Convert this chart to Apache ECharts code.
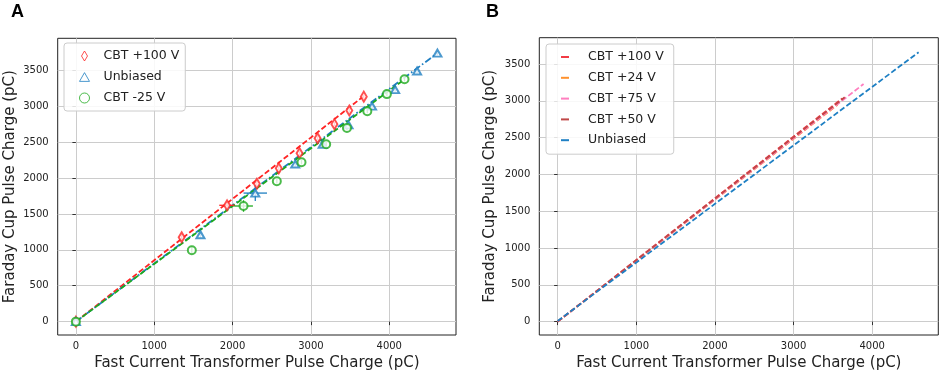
<!DOCTYPE html>
<html><head><meta charset="utf-8">
<script src="https://cdn.jsdelivr.net/npm/echarts@6/dist/echarts.min.js"></script>
<style>html,body{margin:0;padding:0;background:#fff}#c{width:941px;height:375px}</style>
</head><body><div id="c"></div>
<script>
// ---------- data ----------
const xTickLabels = [0, 1000, 2000, 3000, 4000];
const yTickLabels = [0, 500, 1000, 1500, 2000, 2500, 3000, 3500];

// Panel A measured points
const redX  = [0, 1350, 1930, 2310, 2590, 2855, 3085, 3300, 3490, 3675];
const redY  = [0, 1175, 1620, 1920, 2135, 2345, 2553, 2750, 2940, 3132];
const redXErr = [0, 0, 100, 0, 0, 0, 0, 0, 0, 0];
const redYErr = [0, 45, 45, 30, 30, 30, 30, 30, 30, 30];

const blueX = [0, 1590, 2290, 2800, 3150, 3480, 3780, 4075, 4355, 4615];
const blueY = [0, 1210, 1790, 2195, 2470, 2740, 3000, 3230, 3490, 3738];
const blueXErr = [0, 0, 150, 0, 0, 0, 0, 0, 0, 0];
const blueYErr = [0, 40, 110, 30, 30, 30, 30, 30, 30, 30];

const greenX = [0, 1480, 2140, 2565, 2880, 3195, 3460, 3720, 3970, 4195];
const greenY = [0, 995, 1610, 1955, 2220, 2470, 2695, 2930, 3168, 3374];
const greenXErr = [0, 0, 120, 0, 0, 0, 0, 0, 0, 0];
const greenYErr = [0, 50, 80, 30, 30, 30, 30, 30, 30, 30];

// Panel A fit lines
const fitRedA   = [[0, 0], [3680, 3145]];
const fitBlueA  = [[0, 0], [4615, 3738]];
const fitGreenA = [[0, 0], [4195, 3374]];

// Panel B fit lines
const fitB100 = [[0, 0], [3620, 3034]];
const fitB24  = [[0, 0], [3560, 2948]];
const fitB75  = [[0, 0], [3890, 3229]];
const fitB50  = [[0, 0], [3650, 3048]];
const fitBUnb = [[0, 8], [4590, 3660]];

// ---------- styling ----------
const FONT = 'DejaVu Sans';
const C_RED = '#ff2424', C_BLUE = '#1f7fc2', C_GREEN = '#1eaa1e';
const C_B100 = '#f23b45', C_B24 = '#ff922e', C_B75 = '#ff7fbf', C_B50 = '#c04848', C_BUNB = '#1f80c4';

const zip = (xs, ys) => xs.map((x, i) => [x, ys[i]]);
const zip4 = (xs, ys, xe, ye) => xs.map((x, i) => [x, ys[i], xe[i], ye[i]]);

function xAxis(gi, min, max) {
  return {
    type: 'value', gridIndex: gi, min, max, splitNumber: 5,
    axisLine: { show: false },
    axisTick: { show: true, length: 3.5, lineStyle: { color: '#333' } },
    axisLabel: { formatter: v => xTickLabels.includes(v) ? String(v) : '', showMinLabel: false, showMaxLabel: false,
      color: '#222', fontSize: 10, fontFamily: FONT, margin: 6 },
    splitLine: { show: true, showMinLine: false, showMaxLine: false, lineStyle: { color: '#cccccc', width: 1 } },
    name: 'Fast Current Transformer Pulse Charge (pC)', nameLocation: 'middle', nameGap: 21,
    nameTextStyle: { fontSize: 15, fontFamily: FONT, color: '#222' }
  };
}
function yAxis(gi, min, max, gap) {
  return {
    type: 'value', gridIndex: gi, min, max, splitNumber: 8,
    axisLine: { show: false },
    axisTick: { show: true, length: 3.5, lineStyle: { color: '#333' } },
    axisLabel: { formatter: v => yTickLabels.includes(v) ? String(v) : '', showMinLabel: false, showMaxLabel: false,
      color: '#222', fontSize: 10, fontFamily: FONT, margin: 9 },
    splitLine: { show: true, showMinLine: false, showMaxLine: false, lineStyle: { color: '#cccccc', width: 1 } },
    name: 'Faraday Cup Pulse Charge (pC)', nameLocation: 'middle', nameGap: gap,
    nameTextStyle: { fontSize: 15, fontFamily: FONT, color: '#222' }
  };
}
function errSeries(data, color) {
  return {
    type: 'custom', xAxisIndex: 0, yAxisIndex: 0, data, z: 4, silent: true,
    renderItem: (params, api) => {
      const x = api.value(0), y = api.value(1), xe = api.value(2), ye = api.value(3);
      const ch = [];
      if (xe > 0) {
        const a = api.coord([x - xe, y]), b = api.coord([x + xe, y]);
        ch.push({ type: 'line', shape: { x1: a[0], y1: a[1], x2: b[0], y2: b[1] }, style: { stroke: color, lineWidth: 1.3 } });
      }
      if (ye > 0) {
        const a = api.coord([x, y - ye]), b = api.coord([x, y + ye]);
        ch.push({ type: 'line', shape: { x1: a[0], y1: a[1], x2: b[0], y2: b[1] }, style: { stroke: color, lineWidth: 1.3 } });
      }
      return { type: 'group', children: ch };
    }
  };
}
function fitLine(data, color, dash, xi) {
  return { type: 'line', xAxisIndex: xi, yAxisIndex: xi, data, symbol: 'none', silent: true, z: 3,
    lineStyle: { color, width: 1.8, type: dash }, itemStyle: { color } };
}
const DASH = [5.5, 2.5];
const DASHDOT = [7, 2.5, 1.6, 2.5];

const chart = echarts.init(document.getElementById('c'), null, { renderer: 'canvas' });
chart.setOption({
  animation: false,
  backgroundColor: '#fff',
  grid: [
    { left: 57.7, top: 38.3, width: 398.3, height: 296.7, show: true, borderColor: '#222', borderWidth: 1,
      backgroundColor: 'transparent', containLabel: false, outerBoundsMode: 'none' },
    { left: 539.3, top: 37.7, width: 399, height: 297.3, show: true, borderColor: '#222', borderWidth: 1,
      backgroundColor: 'transparent', containLabel: false, outerBoundsMode: 'none' }
  ],
  xAxis: [xAxis(0, -232, 4852), xAxis(1, -233, 4840)],
  yAxis: [yAxis(0, -186, 3945, 40), yAxis(1, -182, 3858, 42)],
  graphic: [
    { type: 'text', left: 11, top: 3, style: { text: 'A', font: 'bold 18px "Liberation Sans"', fill: '#000' } },
    { type: 'text', left: 486, top: 3, style: { text: 'B', font: 'bold 18px "Liberation Sans"', fill: '#000' } }
  ],
  legend: [
    {
      orient: 'vertical', left: 64, top: 43, padding: [6, 6, 6, 15],
      itemWidth: 10, itemHeight: 10, itemGap: 7, symbolKeepAspect: true,
      backgroundColor: 'rgba(255,255,255,0.85)', borderColor: '#cccccc', borderWidth: 1, borderRadius: 3,
      textStyle: { fontSize: 12.5, fontFamily: FONT, color: '#222', lineHeight: 14, padding: [0, 0, 0, 9] },
      data: [
        { name: 'CBT +100 V', icon: 'path://M3,0L6,5L3,10L0,5Z', itemStyle: { color: '#fff', borderColor: C_RED, borderWidth: 1 } },
        { name: 'Unbiased', icon: 'path://M4,0L8,7L0,7Z', itemStyle: { color: '#fff', borderColor: C_BLUE, borderWidth: 1 } },
        { name: 'CBT -25 V', icon: 'circle', itemStyle: { color: '#fff', borderColor: C_GREEN, borderWidth: 1 } }
      ]
    },
    {
      orient: 'vertical', left: 546, top: 44, padding: [6, 6, 7, 15],
      itemWidth: 8, itemHeight: 2, itemGap: 6.8, icon: 'rect', symbolKeepAspect: false,
      backgroundColor: 'rgba(255,255,255,0.85)', borderColor: '#cccccc', borderWidth: 1, borderRadius: 3,
      textStyle: { fontSize: 12.5, fontFamily: FONT, color: '#222', lineHeight: 14, padding: [0, 0, 0, 14] },
      data: ['CBT +100 V ', 'CBT +24 V', 'CBT +75 V', 'CBT +50 V', 'Unbiased ']
    }
  ],
  series: [
    // Panel A: fit lines
    fitLine(fitRedA, C_RED, DASH, 0),
    fitLine(fitBlueA, C_BLUE, DASHDOT, 0),
    fitLine(fitGreenA, C_GREEN, DASH, 0),
    // Panel A: error bars
    errSeries(zip4(redX, redY, redXErr, redYErr), C_RED),
    errSeries(zip4(blueX, blueY, blueXErr, blueYErr), C_BLUE),
    errSeries(zip4(greenX, greenY, greenXErr, greenYErr), C_GREEN),
    // Panel A: markers
    { type: 'scatter', name: 'CBT +100 V', xAxisIndex: 0, yAxisIndex: 0, data: zip(redX, redY), z: 5,
      symbol: 'emptyDiamond', symbolSize: [6, 10], itemStyle: { color: C_RED, borderColor: C_RED, borderWidth: 1 } },
    { type: 'scatter', name: 'Unbiased', xAxisIndex: 0, yAxisIndex: 0, data: zip(blueX, blueY), z: 5,
      symbol: 'emptyTriangle', symbolSize: [8, 7], itemStyle: { color: C_BLUE, borderColor: C_BLUE, borderWidth: 1 } },
    { type: 'scatter', name: 'CBT -25 V', xAxisIndex: 0, yAxisIndex: 0, data: zip(greenX, greenY), z: 5,
      symbol: 'emptyCircle', symbolSize: 8, itemStyle: { color: C_GREEN, borderColor: C_GREEN, borderWidth: 1 } },
    // Panel B
    { type: 'line', name: 'CBT +100 V ', xAxisIndex: 1, yAxisIndex: 1, data: fitB100, symbol: 'none',
      lineStyle: { color: C_B100, width: 1.8, type: DASH }, itemStyle: { color: C_B100 } },
    { type: 'line', name: 'CBT +24 V', xAxisIndex: 1, yAxisIndex: 1, data: fitB24, symbol: 'none',
      lineStyle: { color: C_B24, width: 1.8, type: DASH }, itemStyle: { color: C_B24 } },
    { type: 'line', name: 'CBT +75 V', xAxisIndex: 1, yAxisIndex: 1, data: fitB75, symbol: 'none',
      lineStyle: { color: C_B75, width: 1.8, type: DASH }, itemStyle: { color: C_B75 } },
    { type: 'line', name: 'CBT +50 V', xAxisIndex: 1, yAxisIndex: 1, data: fitB50, symbol: 'none',
      lineStyle: { color: C_B50, width: 1.8, type: DASH }, itemStyle: { color: C_B50 } },
    { type: 'line', name: 'Unbiased ', xAxisIndex: 1, yAxisIndex: 1, data: fitBUnb, symbol: 'none',
      lineStyle: { color: C_BUNB, width: 1.8, type: DASH }, itemStyle: { color: C_BUNB } }
  ]
});
</script>
</body></html>
